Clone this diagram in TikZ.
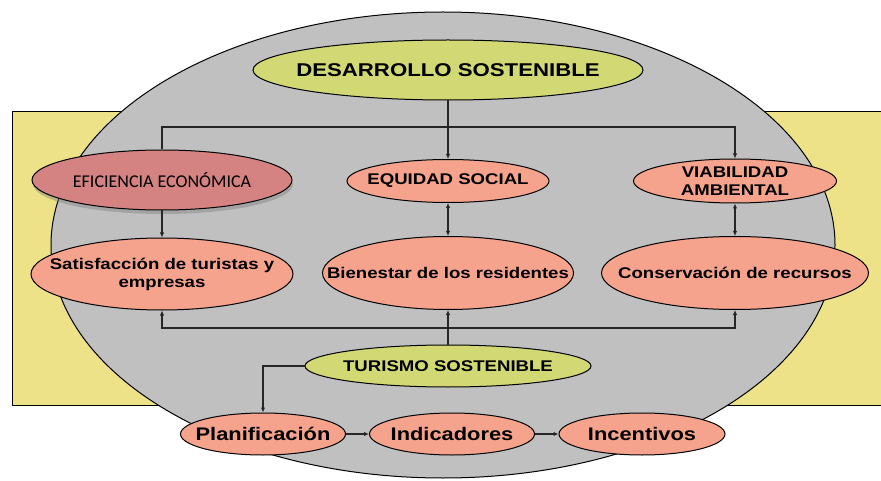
\documentclass[tikz,border=0pt]{standalone}
\usepackage{fontspec}
\setmainfont{Liberation Sans}
\newfontfamily\widesans[FakeStretch=1.2]{Liberation Sans}
\newfontfamily\carl{Carlito}
\usetikzlibrary{shapes.geometric,arrows.meta,shadows}
\definecolor{rectyel}{HTML}{EDE287}
\definecolor{grayfill}{HTML}{C0C0C0}
\definecolor{greenfill}{HTML}{D2D874}
\definecolor{salmon}{HTML}{F5A38C}
\definecolor{rose}{HTML}{D58282}
\tikzset{
  ell/.style={ellipse, draw=black, line width=1pt, inner xsep=-90pt, inner ysep=-20pt, align=center, font=\widesans\bfseries\fontsize{15.5}{18}\selectfont},
  salm/.style={ell, fill=salmon},
  gree/.style={ell, fill=greenfill},
  bigtxt/.style={font=\widesans\bfseries\fontsize{18.2}{20}\selectfont},
  conn/.style={line width=1.3pt, draw=black!85},
  arr/.style={conn, -{Latex[length=5pt,width=4.5pt]}},
  arrb/.style={conn, {Latex[length=5pt,width=4.5pt]}-{Latex[length=5pt,width=4.5pt]}},
}
\begin{document}
\begin{tikzpicture}[x=1pt,y=-1pt]
\useasboundingbox (0,0) rectangle (881,481);
% background
\path[fill=rectyel, draw=black, line width=1pt] (12,112) rectangle (890,405);
\path[fill=grayfill, draw=black, line width=1pt] (443,245) ellipse [x radius=392, y radius=233];
% nodes
\node[gree, minimum width=390, minimum height=60, font=\widesans\bfseries\fontsize{18.5}{20}\selectfont] (des) at (448,70) {DESARROLLO SOSTENIBLE};
\node[ell, fill=rose, minimum width=260, minimum height=60, font=\carl\fontsize{18}{19}\selectfont,
  drop shadow={opacity=0.45, shadow xshift=1pt, shadow yshift=-4pt}] (efi) at (162,180) {EFICIENCIA ECONÓMICA};
\node[salm, minimum width=202, minimum height=43] (eq) at (448,181) {EQUIDAD SOCIAL};
\node[salm, minimum width=203, minimum height=44] (via) at (735,181) {VIABILIDAD\\AMBIENTAL};
\node[salm, minimum width=262, minimum height=72] (sat) at (162,274) {Satisfacción de turistas y\\empresas};
\node[salm, minimum width=251, minimum height=73] (bie) at (448,273) {Bienestar de los residentes};
\node[salm, minimum width=267, minimum height=73] (con) at (735,273) {Conservación de recursos};
\node[gree, minimum width=286, minimum height=42] (tur) at (448,366) {TURISMO SOSTENIBLE};
\node[salm, bigtxt, minimum width=165, minimum height=42] (pla) at (263,434) {Planificación};
\node[salm, bigtxt, minimum width=165, minimum height=42] (ind) at (452,434) {Indicadores};
\node[salm, bigtxt, minimum width=166, minimum height=42] (inc) at (642,434) {Incentivos};
% bus coordinates
\coordinate (bustop) at (0,127);
\coordinate (busbot) at (0,328);
% connectors
\draw[arr] (des.south) -- (eq.north);
\draw[arr] (efi.north) -- (efi.north |- bustop) -- (via.north |- bustop) -- (via.north);
\draw[arr] (efi.south) -- (sat.north);
\draw[arrb] (eq.south) -- (bie.north);
\draw[arrb] (via.south) -- (con.north);
\draw[arr] (tur.north) -- (bie.south);
\draw[arrb] (sat.south) -- (sat.south |- busbot) -- (con.south |- busbot) -- (con.south);
\draw[arr] (tur.west) -| (pla.north);
\draw[arr] (pla.east) -- (ind.west);
\draw[arr] (ind.east) -- (inc.west);
\end{tikzpicture}
\end{document}
